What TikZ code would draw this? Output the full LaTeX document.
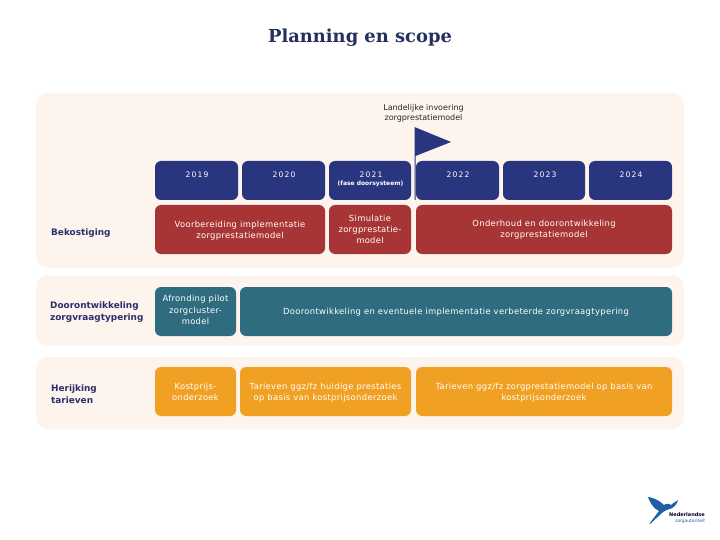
\documentclass[tikz,border=0pt]{standalone}
\usepackage{fontspec}
\setmainfont{DejaVu Sans}
\newfontfamily\titlefont{DejaVu Serif}
\usepackage{xcolor}
\definecolor{panelbg}{HTML}{FDF4ED}
\definecolor{navy}{HTML}{2A3580}
\definecolor{brick}{HTML}{A83535}
\definecolor{tealb}{HTML}{2F6C80}
\definecolor{orangeb}{HTML}{F0A023}
\definecolor{labelc}{HTML}{2A2F6B}
\definecolor{titlec}{HTML}{26305F}
\definecolor{logoc}{HTML}{1F5FA8}
\tikzset{
  x=1pt,y=-1pt,
  panel/.style={fill=panelbg,draw=none,rounded corners=11pt,inner sep=0pt},
  blockbox/.style={draw=none,rounded corners=6pt,inner sep=1pt,align=center,text=white,font=\fontsize{8.4}{11.2}\selectfont\addfontfeature{LetterSpace=4},text depth=0pt},
  yearbox/.style={blockbox,fill=navy,minimum height=39pt},
  redbox/.style={blockbox,fill=brick,minimum height=49pt},
  tealbox/.style={blockbox,fill=tealb,minimum height=49pt},
  orbox/.style={blockbox,fill=orangeb,minimum height=49pt},
  rowlabel/.style={anchor=west,align=left,inner sep=0pt,text=labelc,font=\fontsize{8.9}{11.5}\selectfont\bfseries},
  yeartext/.style={inner sep=0pt,text=white,font=\fontsize{7.6}{9}\selectfont\addfontfeature{LetterSpace=16}},
}
\begin{document}
\begin{tikzpicture}
\useasboundingbox (0,0) rectangle (720,540);
\node[inner sep=0pt,text=titlec,font=\titlefont\fontsize{17.9}{20}\selectfont\bfseries] (title) at (360,38) {Planning en scope};
% panels
\node[panel,minimum width=648pt,minimum height=175pt] (p1) at (360,180.5) {};
\node[panel,minimum width=648pt,minimum height=70pt] (p2) at (360,310.5) {};
\node[panel,minimum width=648pt,minimum height=72pt] (p3) at (360,393) {};
% flag
\fill[navy] (414.5,127) -- (451,142) -- (415.5,156) -- (415.5,200) -- (414.5,200) -- cycle;
\node[inner sep=0pt,align=center,text=black!85,font=\fontsize{8}{10.5}\selectfont] (inv) at (423.5,113.5) {Landelijke invoering\\zorgprestatiemodel};
% years
\node[yearbox,minimum width=83pt] (y19) at (196.5,180.5) {};
\node[yearbox,minimum width=83pt] (y20) at (283.5,180.5) {};
\node[yearbox,minimum width=82pt] (y21) at (370,180.5) {};
\node[yearbox,minimum width=83pt] (y22) at (457.5,180.5) {};
\node[yearbox,minimum width=82pt] (y23) at (544,180.5) {};
\node[yearbox,minimum width=83pt] (y24) at (630.5,180.5) {};
\node[yeartext] (t19) at (197,174.5) {2019};
\node[yeartext] (t20) at (284,174.5) {2020};
\node[yeartext] (t21) at (371,174.5) {2021};
\node[yeartext] (t22) at (458,174.5) {2022};
\node[yeartext] (t23) at (545,174.5) {2023};
\node[yeartext] (t24) at (631,174.5) {2024};
\node[inner sep=0pt,text=white,font=\fontsize{6}{7}\selectfont\bfseries] (fase) at (370.5,184) {(fase doorsysteem)};
% row 1
\node[rowlabel] (l1) at (51,233) {Bekostiging};
\node[redbox,minimum width=170pt] (r1) at (240,229.5) {Voorbereiding implementatie\\zorgprestatiemodel};
\node[redbox,minimum width=82pt] (r2) at (370,229.5) {Simulatie\\zorgprestatie-\\model};
\node[redbox,minimum width=256pt] (r3) at (544,229.5) {\raisebox{1pt}{Onderhoud en doorontwikkeling}\\\raisebox{1pt}{zorgprestatiemodel}};
% row 2
\node[rowlabel] (l2) at (50,312) {Doorontwikkeling\\zorgvraagtypering};
\node[tealbox,minimum width=81pt] (t1) at (195.5,311.5) {\raisebox{3pt}{Afronding pilot}\\\raisebox{3pt}{zorgcluster-}\\\raisebox{3pt}{model}};
\node[tealbox,minimum width=432pt] (t2) at (456,311.5) {Doorontwikkeling en eventuele implementatie verbeterde zorgvraagtypering};
% row 3
\node[rowlabel] (l3) at (51,394) {Herijking\\tarieven};
\node[orbox,minimum width=81pt] (o1) at (195.5,391.5) {Kostprijs-\\onderzoek};
\node[orbox,minimum width=171pt] (o2) at (325.5,391.5) {Tarieven ggz/fz huidige prestaties\\op basis van kostprijsonderzoek};
\node[orbox,minimum width=256pt] (o3) at (544,391.5) {Tarieven ggz/fz zorgprestatiemodel op basis van\\kostprijsonderzoek};
% logo
\fill[logoc] (648,497) .. controls (656,498) and (662,503) .. (664,505) .. controls (666,503) and (670,504) .. (671,505) .. controls (673,503) and (677,501) .. (678,500) .. controls (677,505) and (673,508) .. (670,509) .. controls (666,510) and (664,511) .. (662,513) -- (650,524) -- (649.5,523.5) -- (659,511) .. controls (654,509) and (650,503) .. (648,497) -- cycle;
\node[inner sep=0pt,anchor=west,text=black!80!blue,font=\fontsize{5}{5}\selectfont\bfseries] (logo1) at (669,515) {Nederlandse};
\node[inner sep=0pt,anchor=west,text=logoc,font=\fontsize{4.4}{5}\selectfont] (logo2) at (675,521.5) {zorgautoriteit};
\end{tikzpicture}
\end{document}
